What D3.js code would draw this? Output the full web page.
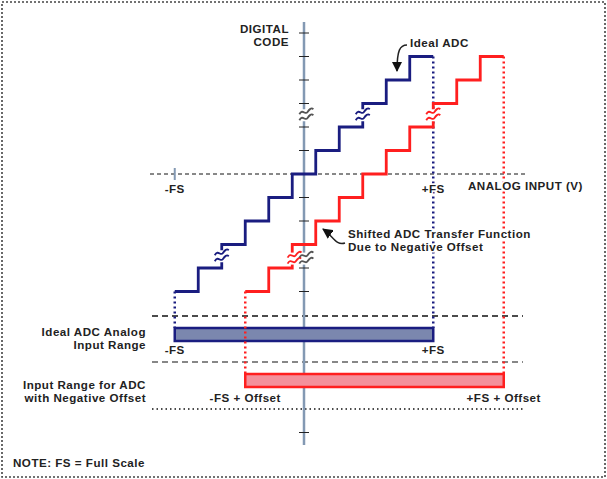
<!DOCTYPE html>
<html>
<head>
<meta charset="utf-8">
<script src="https://cdn.jsdelivr.net/npm/d3@7"></script>
<style>
  body{margin:0;background:#fff;}
  text{font-family:"Liberation Sans",Arial,sans-serif;font-weight:bold;font-size:11.6px;fill:#222;letter-spacing:0.5px;
       stroke:#fff;stroke-width:3px;paint-order:stroke;}
</style>
</head>
<body>
<div id="canvas"></div>
<script>
// codes of the staircase (in LSB), offset of shifted ADC, full scale
var codes = [-5,-4,-3,-2,-1,0,1,2,3,4,5];
var fullScale = 5.5;
var offsetLsb = 3;
var codeTicks = [6,5,4,3,2,1,-1,-2,-4,-5,-11];
var fsTick = [-5.5];
var idealRange = [-5.5, 5.5];
var shiftedRange = [-2.5, 8.5];
// break marks: [x, y] in LSB
var idealBreaks = [[2.5,2.5],[-3.5,-3.5]];
var shiftedBreaks = [[5.5,2.5],[-0.4,-3.6]];
var axisBreaks = [[0.1,2.5],[0.1,-3.6]];

var W = 607, H = 479;
var svg = d3.select('#canvas').append('svg')
    .attr('width',W).attr('height',H);

var x = d3.scaleLinear().domain([0,1]).range([304,327.5]);
var y = d3.scaleLinear().domain([0,1]).range([174,150.5]);

var navy = '#1a1d80', red = '#ff1f1f', grayAxis = '#8399b3';

// frame
svg.append('rect').attr('x',2).attr('y',2).attr('width',603).attr('height',475)
    .attr('fill','none').attr('stroke','#444').attr('stroke-width',1.6)
    .attr('stroke-dasharray','2,2');

svg.append('defs').append('marker')
    .attr('id','arr').attr('viewBox','0 0 10 10').attr('refX',9).attr('refY',5)
    .attr('markerWidth',7).attr('markerHeight',7).attr('orient','auto')
    .append('path').attr('d','M0,0L10,5L0,10z').attr('fill','#111');

// horizontal separator lines of the lower panel
function hline(yy, x0, x1, dash, w){
  svg.append('line').attr('x1',x0).attr('x2',x1).attr('y1',yy).attr('y2',yy)
     .attr('stroke','#111').attr('stroke-width',w).attr('stroke-dasharray',dash);
}
hline(316, 152, 523, '6,4', 1.5);
hline(362, 152, 523, '6,4', 1.2);
hline(409, 152, 523, '1.5,3', 1.3);

// analog input axis
hline(y(0), 150, 528, '4,3', 1);

// vertical digital code axis
svg.append('line').attr('x1',x(0)).attr('x2',x(0)).attr('y1',22).attr('y2',445)
    .attr('stroke',grayAxis).attr('stroke-width',2.5);
svg.selectAll('.ctick').data(codeTicks).enter().append('line')
    .attr('x1',x(0)-5).attr('x2',x(0)+5)
    .attr('y1',function(d){return y(d);}).attr('y2',function(d){return y(d);})
    .attr('stroke','#222').attr('stroke-width',1);
svg.selectAll('.ftick').data(fsTick).enter().append('line')
    .attr('x1',function(d){return x(d);}).attr('x2',function(d){return x(d);})
    .attr('y1',y(0)-6).attr('y2',y(0)+6)
    .attr('stroke',grayAxis).attr('stroke-width',2);

// staircases
function stairPts(off){
  var pts = [];
  codes.forEach(function(k){
    pts.push([k-0.5+off,k]);
    pts.push([k+0.5+off,k]);
  });
  return pts;
}
var line = d3.line().x(function(d){return x(d[0]);}).y(function(d){return y(d[1]);});

function drawSeries(off, range, color, barTop, fill){
  // dotted drops to range bar
  [range[0], range[1]].forEach(function(v,i){
    svg.append('line').attr('x1',x(v)).attr('x2',x(v))
      .attr('y1',y(codes[i==0?0:codes.length-1])).attr('y2',barTop)
      .attr('stroke',color).attr('stroke-width',2.5).attr('stroke-dasharray','2,3');
  });
  svg.append('path').datum(stairPts(off)).attr('d',line)
    .attr('fill','none').attr('stroke',color).attr('stroke-width',2.8);
  svg.append('rect').attr('x',x(range[0])).attr('y',barTop)
    .attr('width',x(range[1])-x(range[0])).attr('height',13)
    .attr('fill',fill).attr('stroke',color).attr('stroke-width',2.5);
}
drawSeries(0, idealRange, navy, 328, '#7b87ae');
drawSeries(offsetLsb, shiftedRange, red, 374, '#f4909b');

// break marks
function brk(d, color){
  var g = svg.append('g').attr('transform','translate('+x(d[0])+','+y(d[1])+')');
  g.append('rect').attr('x',-5).attr('y',-6).attr('width',10).attr('height',12).attr('fill','#fff');
  [-3,3].forEach(function(o){
    g.append('path').attr('d','M-7,'+(o+2)+' C-4,'+(o-4)+' -1,'+(o+3)+' 1,'+(o)+' S5,'+(o-5)+' 7,'+(o-3))
      .attr('fill','none').attr('stroke',color).attr('stroke-width',1.8);
  });
}
idealBreaks.forEach(function(d){brk(d,navy);});
shiftedBreaks.forEach(function(d){brk(d,red);});
axisBreaks.forEach(function(d){brk(d,'#555');});

// labels
function txt(s, xx, yy, anchor){
  svg.append('text').attr('x',xx).attr('y',yy).attr('text-anchor',anchor||'start').text(s);
}
txt('DIGITAL', 289, 33, 'end');
txt('CODE', 289, 46, 'end');
txt('Ideal ADC', 410, 47);
txt('-FS', x(-fullScale), 193, 'middle');
txt('+FS', x(fullScale), 193, 'middle');
txt('ANALOG INPUT (V)', 468, 190);
txt('Shifted ADC Transfer Function', 348, 238);
txt('Due to Negative Offset', 348, 251);
txt('Ideal ADC Analog', 146, 336, 'end');
txt('Input Range', 146, 349, 'end');
txt('-FS', x(idealRange[0]), 354, 'middle');
txt('+FS', x(idealRange[1]), 354, 'middle');
txt('Input Range for ADC', 146, 389, 'end');
txt('with Negative Offset', 146, 402, 'end');
txt('-FS + Offset', x(shiftedRange[0]), 402, 'middle');
txt('+FS + Offset', x(shiftedRange[1]), 402, 'middle');
txt('NOTE: FS = Full Scale', 13, 467);

// callout arrows
svg.append('path').attr('d','M407,45 C400,45 397,50 397,71')
  .attr('fill','none').attr('stroke','#222').attr('stroke-width',1.5).attr('marker-end','url(#arr)');
svg.append('path').attr('d','M345,243 C336,246 333,236 323,229')
  .attr('fill','none').attr('stroke','#222').attr('stroke-width',1.5).attr('marker-end','url(#arr)');
</script>
</body>
</html>
